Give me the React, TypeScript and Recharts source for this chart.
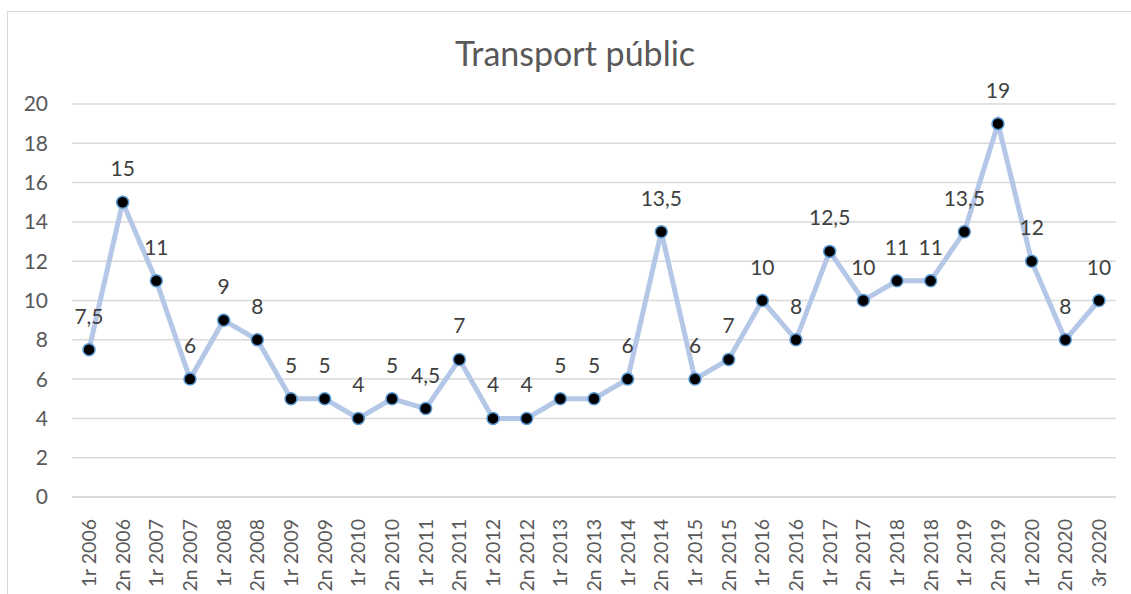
import { LineChart, Line, XAxis, YAxis, CartesianGrid, LabelList } from "recharts";

const CATEGORIES = [
  "1r 2006", "2n 2006", "1r 2007", "2n 2007", "1r 2008", "2n 2008",
  "1r 2009", "2n 2009", "1r 2010", "2n 2010", "1r 2011", "2n 2011",
  "1r 2012", "2n 2012", "1r 2013", "2n 2013", "1r 2014", "2n 2014",
  "1r 2015", "2n 2015", "1r 2016", "2n 2016", "1r 2017", "2n 2017",
  "1r 2018", "2n 2018", "1r 2019", "2n 2019", "1r 2020", "2n 2020",
  "3r 2020",
];

const VALUES = [
  7.5, 15, 11, 6, 9, 8,
  5, 5, 4, 5, 4.5, 7,
  4, 4, 5, 5, 6, 13.5,
  6, 7, 10, 8, 12.5, 10,
  11, 11, 13.5, 19, 12, 8,
  10,
];

const Y_TICKS = [0, 2, 4, 6, 8, 10, 12, 14, 16, 18, 20];

const FONT = "Lato, 'Liberation Sans', sans-serif";

const chartData = CATEGORIES.map((c, i) => ({ period: c, value: VALUES[i] }));

function RotatedTick({ x, y, payload }: any) {
  return (
    <text
      transform={`translate(${x},${y + 14}) rotate(-90)`}
      textAnchor="end"
      dy="0.36em"
      fontSize={19.5}
      fontFamily={FONT}
      fill="#595959"
    >
      {payload.value}
    </text>
  );
}

function ValueLabel({ x, y, value }: any) {
  return (
    <text
      x={x}
      y={y - 26}
      textAnchor="middle"
      fontSize={21}
      fontFamily={FONT}
      fill="#404040"
    >
      {String(value).replace(".", ",")}
    </text>
  );
}

export default function App() {
  return (
    <div style={{ position: "absolute", left: 0, top: 0, width: 1131, height: 594, background: "#fff", overflow: "hidden" }}>
      <div
        style={{
          position: "absolute",
          left: 7,
          top: 11,
          width: 1200,
          height: 700,
          border: "1px solid #d9d9d9",
          boxSizing: "border-box",
        }}
      />
      <div
        style={{
          position: "absolute",
          left: 0,
          width: 1150,
          top: 33,
          textAlign: "center",
          fontFamily: FONT,
          fontSize: 34,
          color: "#595959",
          lineHeight: "40px",
        }}
      >
        Transport públic
      </div>
      <LineChart
        width={1131}
        height={594}
        data={chartData}
        margin={{ top: 104, right: 15, bottom: 0, left: 0 }}
        style={{ position: "absolute", left: 0, top: 0 }}
      >
        <CartesianGrid vertical={false} stroke="#d9d9d9" strokeWidth={1.5} />
        <XAxis
          dataKey="period"
          interval={0}
          height={97}
          padding={{ left: 17, right: 17 }}
          axisLine={{ stroke: "#d9d9d9", strokeWidth: 1.5 }}
          tickLine={false}
          tick={<RotatedTick />}
        />
        <YAxis
          domain={[0, 20]}
          ticks={Y_TICKS}
          width={72}
          axisLine={false}
          tickLine={false}
          tickMargin={18}
          tick={{ fontSize: 21, fontFamily: FONT, fill: "#595959" }}
        />
        <Line
          type="linear"
          dataKey="value"
          stroke="#b4c7e7"
          strokeWidth={5}
          dot={{ r: 6, fill: "#000000", stroke: "#5b9bd5", strokeWidth: 1.5 }}
          activeDot={false}
          isAnimationActive={false}
        >
          <LabelList dataKey="value" content={<ValueLabel />} />
        </Line>
      </LineChart>
    </div>
  );
}
